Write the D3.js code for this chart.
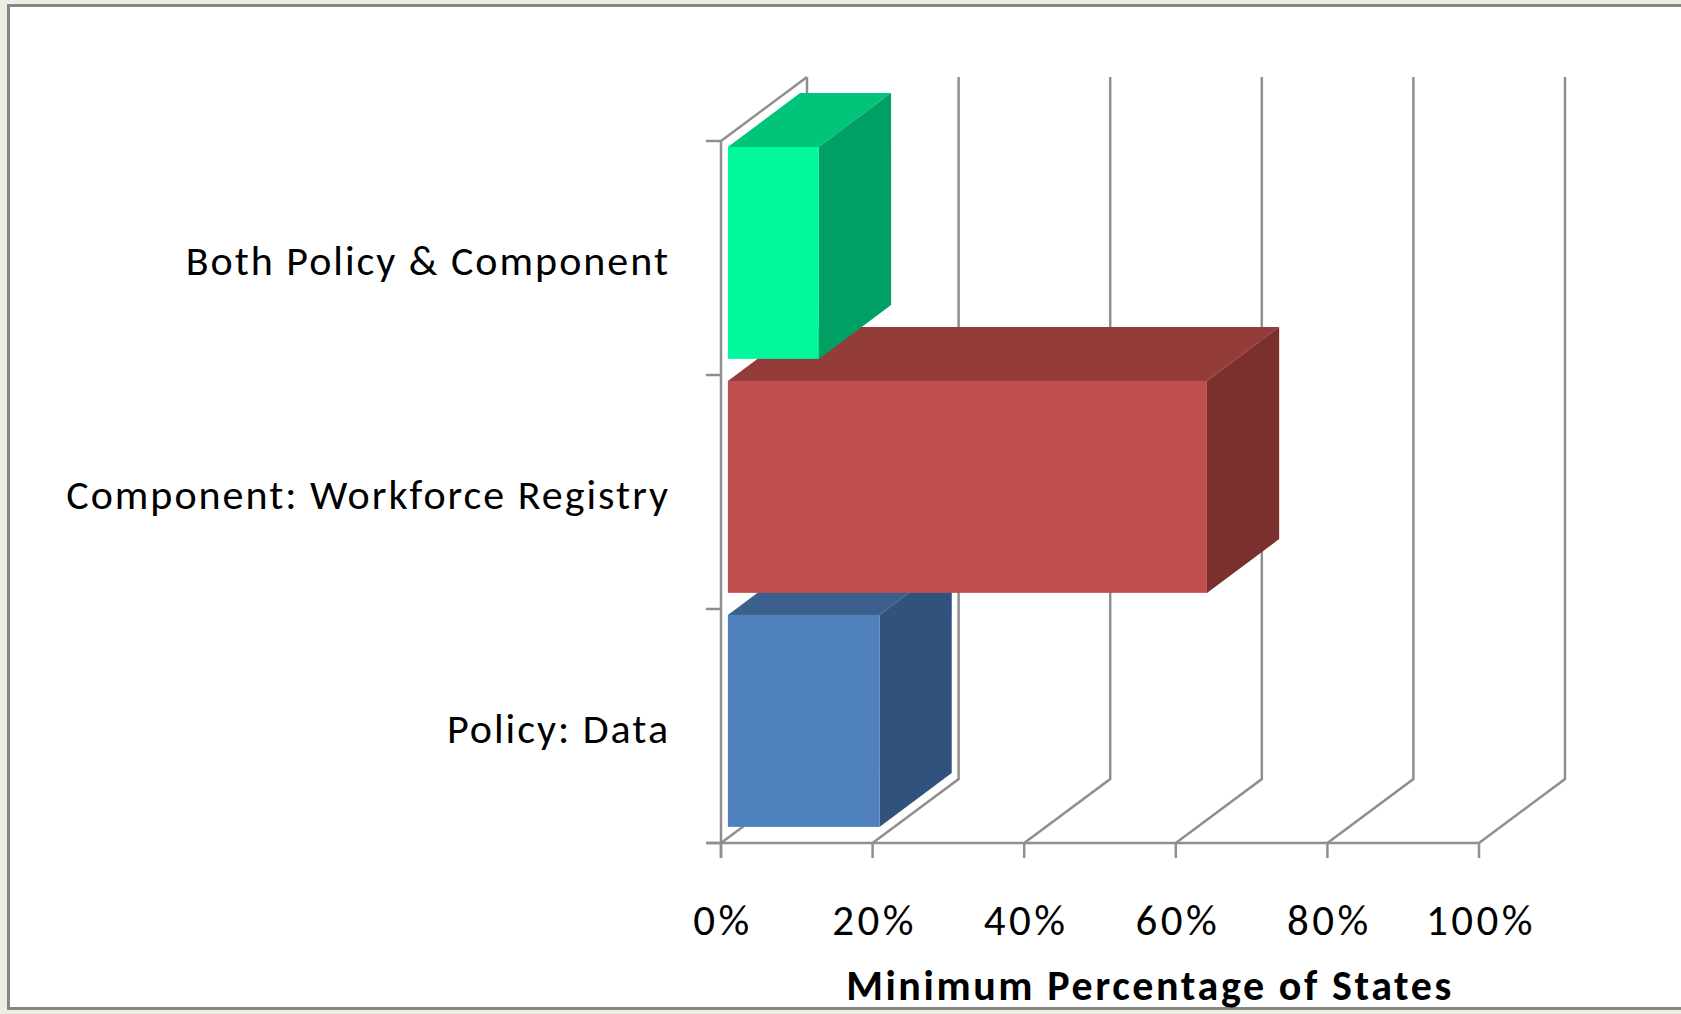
<!DOCTYPE html>
<html>
<head>
<meta charset="utf-8">
<script src="https://cdn.jsdelivr.net/npm/d3@7"></script>
<style>
  html, body { margin: 0; padding: 0; background: #eeede3; }
  svg { display: block; }
</style>
</head>
<body>
<svg id="chart" width="1681" height="1014"></svg>
<script>
// ---- data ----
const categories = ["Both Policy & Component", "Component: Workforce Registry", "Policy: Data"];
const values = [0.12, 0.632, 0.20];
const tickValues = [0, 0.2, 0.4, 0.6, 0.8, 1.0];
const tickLabels = ["0%", "20%", "40%", "60%", "80%", "100%"];
const axisTitle = "Minimum Percentage of States";
const frontColors = ["#00f99a", "#c0504d", "#4f81bd"];
const topColors = ["#00c47a", "#943c39", "#3b608e"];
const sideColors = ["#00a064", "#7b302e", "#31527c"];

const svg = d3.select("#chart");
const W = 1681, H = 1014;

// frame
svg.append("rect").attr("x", 0).attr("y", 0).attr("width", W).attr("height", H).attr("fill", "#eeede3");
svg.append("rect").attr("x", 8.5).attr("y", 5.5).attr("width", W + 20).attr("height", 1003)
  .attr("fill", "#ffffff").attr("stroke", "#878787").attr("stroke-width", 3);

// scales
const x = d3.scaleLinear().domain([0, 1]).range([721, 1479]);
const y = d3.scaleBand().domain(categories).range([141, 843]).paddingInner(0.094).paddingOuter(0.047);
const DX = 86, DY = -64;           // full depth offset
const d0 = 0.08, d1 = 0.92;        // bar depth fraction
const gridColor = "#8f8f8f";

const g = svg.append("g");
const grid = g.append("g").attr("stroke", gridColor).attr("stroke-width", 2.5).attr("fill", "none");

// back wall verticals + floor diagonals
tickValues.forEach(t => {
  const xf = x(t), xb = x(t) + DX;
  grid.append("path").attr("d", `M${xf},843 L${xb},${843 + DY} L${xb},${141 + DY}`);
});
// left wall top diagonal
grid.append("path").attr("d", `M${x(0)},141 L${x(0) + DX},${141 + DY}`);
// front floor edge (x axis)
grid.append("line").attr("x1", x(0) - 14).attr("x2", x(1)).attr("y1", 843).attr("y2", 843);
// y axis
grid.append("line").attr("x1", x(0)).attr("x2", x(0)).attr("y1", 141).attr("y2", 858);
// y ticks
const yTicks = [141].concat(categories.map(c => y(c) - y.step() * 0.047 + y.step()));
yTicks.forEach(v => grid.append("line").attr("x1", x(0) - 15).attr("x2", x(0)).attr("y1", v).attr("y2", v));
// x ticks
tickValues.forEach(t => grid.append("line").attr("x1", x(t)).attr("x2", x(t)).attr("y1", 843).attr("y2", 858));

// bars (draw from bottom to top so upper bars occlude lower tops)
const order = d3.range(categories.length).reverse();
const bars = g.append("g");
order.forEach(i => {
  const c = categories[i], v = values[i];
  const fx0 = x(0) + DX * d0, fy0 = y(c) + DY * d0;
  const w = x(v) - x(0), h = y.bandwidth();
  const bx = (d1 - d0) * DX, by = (d1 - d0) * DY;
  const bg = bars.append("g");
  bg.append("path").attr("fill", topColors[i])
    .attr("d", `M${fx0},${fy0} L${fx0 + bx},${fy0 + by} L${fx0 + w + bx},${fy0 + by} L${fx0 + w},${fy0} Z`);
  bg.append("path").attr("fill", sideColors[i])
    .attr("d", `M${fx0 + w},${fy0} L${fx0 + w + bx},${fy0 + by} L${fx0 + w + bx},${fy0 + h + by} L${fx0 + w},${fy0 + h} Z`);
  bg.append("rect").attr("fill", frontColors[i]).attr("x", fx0).attr("y", fy0).attr("width", w).attr("height", h);
});

// category labels
const fontFam = "Carlito, Lato, 'Open Sans', sans-serif";
g.append("g").selectAll("text").data(categories).join("text")
  .attr("x", 670).attr("y", c => y(c) + y.bandwidth() / 2 + 17)
  .attr("text-anchor", "end").attr("font-family", fontFam).attr("font-size", 42)
  .attr("letter-spacing", "2px")
  .attr("fill", "#000").text(c => c);

// tick labels
g.append("g").selectAll("text").data(tickValues).join("text")
  .attr("x", t => x(t) + 2).attr("y", 935)
  .attr("text-anchor", "middle").attr("font-family", fontFam).attr("font-size", 43)
  .attr("letter-spacing", "3.5px")
  .attr("fill", "#000").text((t, i) => tickLabels[i]);

// axis title
g.append("text").attr("x", 1150).attr("y", 1000).attr("text-anchor", "middle")
  .attr("font-family", fontFam).attr("font-weight", "bold").attr("font-size", 42)
  .attr("letter-spacing", "2.6px")
  .attr("fill", "#000").text(axisTitle);
</script>
</body>
</html>
